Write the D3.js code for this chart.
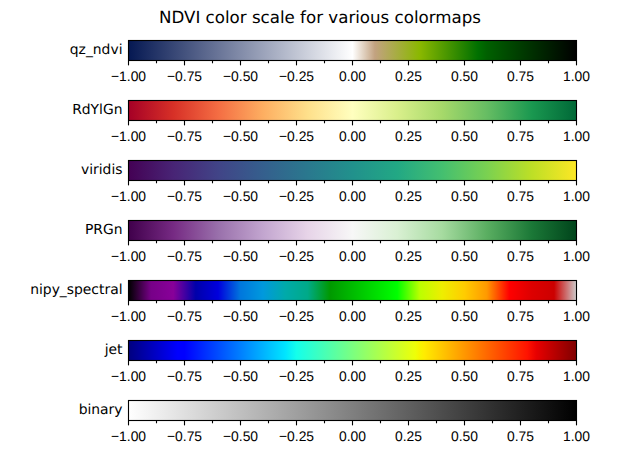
<!DOCTYPE html>
<html>
<head>
  <meta charset="utf-8" />
  <script src="https://d3js.org/d3.v7.min.js"></script>
  <style>
    html, body {
      margin: 0;
      background: white;
    }
    svg {
      display: block;
      font-family: "DejaVu Sans", sans-serif;
      text-rendering: geometricPrecision;
    }
    .axis text {
      font-size: 13.89px;
      fill: black;
    }
    .axis line {
      stroke: black;
      stroke-width: 1.11px;
    }
  </style>
</head>
<body>
  <script>
    var title = "NDVI color scale for various colormaps";
    var cmapNames = ["qz_ndvi", "RdYlGn", "viridis", "PRGn", "nipy_spectral", "jet", "binary"];
    var majorTicks = [-1, -0.75, -0.5, -0.25, 0, 0.25, 0.5, 0.75, 1];
    var minorTicks = [-0.875, -0.625, -0.375, -0.125, 0.125, 0.375, 0.625, 0.875];

    // stops are [position 0..1, colour]
    var qzNdvi = [[0, "#051852"], [0.5, "#ffffff"], [0.55, "#c2a280"], [0.65, "#8ab800"], [0.78, "#007000"], [0.8, "#006000"], [1, "#000000"]];
    var rdYlGn = ["#a50026", "#d73027", "#f46d43", "#fdae61", "#fee08b", "#ffffbf", "#d9ef8b", "#a6d96a", "#66bd63", "#1a9850", "#006837"];
    var viridis = ["#440154", "#482475", "#414487", "#355f8d", "#2a788e", "#21918c", "#22a884", "#44bf70", "#7ad151", "#bddf26", "#fde725"];
    var prgn = ["#40004b", "#762a83", "#9970ab", "#c2a5cf", "#e7d4e8", "#f7f7f7", "#d9f0d3", "#a6dba0", "#5aae61", "#1b7837", "#00441b"];
    var nipySpectral = ["#000000", "#770088", "#880099", "#0000aa", "#0000dd", "#0077dd", "#0099dd", "#00aaaa", "#00aa88", "#009900", "#00bb00", "#00dd00", "#00ff00", "#bbff00", "#eeee00", "#ffcc00", "#ff9900", "#ff0000", "#dd0000", "#cc0000", "#cccccc"];
    var jet = [[0, "#00007f"], [0.11, "#0000ff"], [0.125, "#0000ff"], [0.34, "#00dbff"], [0.35, "#00e5ff"], [0.375, "#14ffeb"], [0.64, "#eeff08"], [0.65, "#f7f500"], [0.66, "#ffec00"], [0.89, "#ff1300"], [0.91, "#e80000"], [1, "#7f0000"]];
    var binary = ["#ffffff", "#000000"];

    var cmapStops = [qzNdvi, rdYlGn, viridis, prgn, nipySpectral, jet, binary];

    var width = 640;
    var height = 460;
    var margin = { left: 128, right: 64 };
    var barTop = 40.5;
    var barBottom = 420.5;

    var x = d3.scaleLinear().domain([-1, 1]).range([margin.left, width - margin.right]);
    var y = d3.scaleBand().domain(cmapNames).range([barTop, barBottom]).paddingInner(2 / 3);

    var svg = d3.select("body")
      .append("svg")
      .attr("width", width)
      .attr("height", height);

    svg.append("text")
      .attr("x", width / 2)
      .attr("y", 22.5)
      .attr("text-anchor", "middle")
      .style("font-size", "16.67px")
      .text(title);

    var defs = svg.append("defs");

    cmapNames.forEach(function(name, i) {
      var stops = cmapStops[i].map(function(s, j, all) {
        return Array.isArray(s) ? s : [j / (all.length - 1), s];
      });

      defs.append("linearGradient")
        .attr("id", "cmap" + i)
        .selectAll("stop")
        .data(stops)
        .enter()
        .append("stop")
        .attr("offset", function(d) { return d[0]; })
        .attr("stop-color", function(d) { return d[1]; });

      var top = y(name);
      var bottom = top + y.bandwidth();

      svg.append("rect")
        .attr("x", x(-1) + 0.5) // d3 axis ticks sit on the half pixel, keep the frame with them
        .attr("y", top)
        .attr("width", x(1) - x(-1))
        .attr("height", y.bandwidth())
        .attr("fill", "url(#cmap" + i + ")")
        .attr("stroke", "black")
        .attr("stroke-width", 1.11);

      svg.append("g")
        .attr("class", "axis")
        .attr("transform", `translate(0 ${bottom})`)
        .call(d3.axisBottom(x).tickValues(majorTicks).tickSize(4.86).tickPadding(5.3).tickFormat(d3.format(".2f")))
        .call(function(g) { g.select(".domain").remove(); });

      svg.append("g")
        .attr("class", "axis")
        .attr("transform", `translate(0 ${bottom})`)
        .call(d3.axisBottom(x).tickValues(minorTicks).tickSize(2.78).tickFormat(""))
        .call(function(g) { g.select(".domain").remove(); });

      svg.append("text")
        .attr("x", x(-1) - 5.5)
        .attr("y", top + y.bandwidth() / 2)
        .attr("dy", "0.28em")
        .attr("text-anchor", "end")
        .style("font-size", "13.89px")
        .text(name);
    });
  </script>
</body>
</html>
